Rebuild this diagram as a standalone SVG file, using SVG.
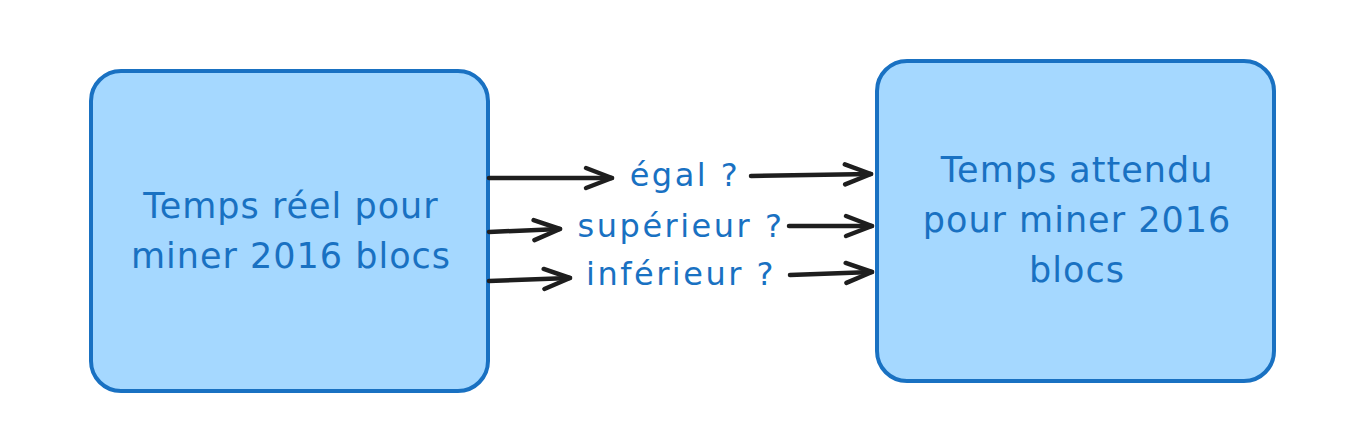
<svg xmlns="http://www.w3.org/2000/svg" width="1362" height="448" viewBox="0 0 1362 448">
<style>
.box{fill:#a5d8ff;stroke:#1971c2;stroke-width:4}
.t{font-family:"DejaVu Sans","Liberation Sans",sans-serif;font-size:35px;letter-spacing:1px;fill:#1971c2;text-anchor:middle}
.l{font-family:"DejaVu Sans","Liberation Sans",sans-serif;font-size:32px;letter-spacing:2.5px;fill:#1971c2;text-anchor:middle}
.c{fill:none;stroke:#1e1e1e;stroke-width:4.5;stroke-linecap:round;marker-end:url(#ah)}
</style>
<defs>
<marker id="ah" markerUnits="userSpaceOnUse" viewBox="-30 -13 34 26" refX="0" refY="0" markerWidth="34" markerHeight="26" orient="auto">
<path d="M-26,-10 L0,0 L-26,10" fill="none" stroke="#1e1e1e" stroke-width="4.5" stroke-linecap="round" stroke-linejoin="round"/>
</marker>
</defs>
<rect width="1362" height="448" fill="#ffffff"/>
<g id="node-reel">
<rect class="box" x="91" y="71" width="397" height="320" rx="30"/>
<text class="t" x="291" y="218">Temps réel pour</text>
<text class="t" x="291" y="268">miner 2016 blocs</text>
</g>
<g id="node-attendu">
<rect class="box" x="877" y="61" width="397" height="320" rx="30"/>
<text class="t" x="1077" y="182">Temps attendu</text>
<text class="t" x="1077" y="232">pour miner 2016</text>
<text class="t" x="1077" y="282">blocs</text>
</g>
<g id="connectors">
<path class="c" d="M489,178 L612,178"/>
<path class="c" d="M751,176 L871,174"/>
<path class="c" d="M489,232 L560,229"/>
<path class="c" d="M789,226 L872,226"/>
<path class="c" d="M489,281 L570,278"/>
<path class="c" d="M790,275 L872,272"/>
</g>
<g id="labels">
<text class="l" x="685" y="186">égal ?</text>
<text class="l" x="681" y="237">supérieur ?</text>
<text class="l" x="681" y="285">inférieur ?</text>
</g>
</svg>
